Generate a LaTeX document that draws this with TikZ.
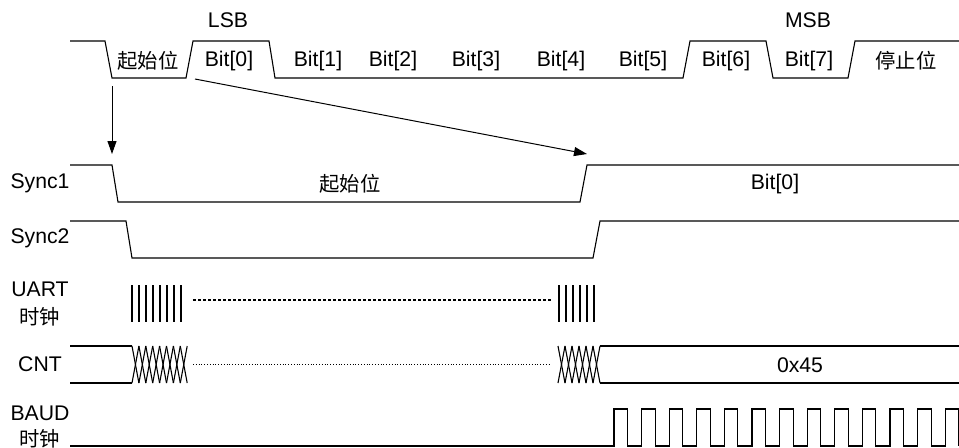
\documentclass[tikz,border=0pt]{standalone}
\usepackage{fontspec}
\setmainfont{Liberation Sans}
\newfontfamily\cjk[Scale=0.96]{Noto Sans CJK SC}
\usetikzlibrary{arrows.meta}

\begin{document}
\begin{tikzpicture}[x=0.5pt,
					y=-0.5pt,
					wave/.style={line width=0.55pt},
					clk/.style={line width=0.9pt},
					txt/.style={font=\fontsize{10.6}{12}\selectfont,inner sep=0pt},
					ptr/.style={-{Triangle[length=6.5pt,width=4.5pt]},line width=0.5pt}]

  \useasboundingbox (0,0) rectangle (959,447);

  % serial frame
  \draw[wave] (70,41) -- (105,41) -- (112,78) -- (186,78) -- (193,41) -- (269,41)
    -- (275,78) -- (683,78) -- (690,41) -- (766,41) -- (773,78) -- (848,78)
    -- (855,41) -- (959,41);

  \node[txt] (lsb) at (228,20) {LSB};
  \node[txt] (msb) at (808,20) {MSB};
  \node[txt] (start) at (148,61) {\cjk 起始位};
  \node[txt] (bit0) at (229,61) {Bit[0]};
  \node[txt] (bit1) at (318,61) {Bit[1]};
  \node[txt] (bit2) at (393,61) {Bit[2]};
  \node[txt] (bit3) at (476,61) {Bit[3]};
  \node[txt] (bit4) at (561,61) {Bit[4]};
  \node[txt] (bit5) at (643,61) {Bit[5]};
  \node[txt] (bit6) at (726,61) {Bit[6]};
  \node[txt] (bit7) at (809,61) {Bit[7]};
  \node[txt] (stop) at (906,61) {\cjk 停止位};

  % signal names
  \node[txt] (sync1) at (40,183) {Sync1};
  \node[txt] (sync2) at (40,238) {Sync2};
  \node[txt] (uart) at (40,289) {UART};
  \node[txt] (uartclk) at (40,317) {\cjk 时钟};
  \node[txt] (cnt) at (40,364) {CNT};
  \node[txt] (baud) at (40,413) {BAUD};
  \node[txt] (baudclk) at (40,439) {\cjk 时钟};

  % sync pointers
  \coordinate (fall) at (112,86);
  \coordinate (fallsync) at (112,154);
  \coordinate (lsbend) at (195,79);
  \coordinate (risesync) at (587,154);
  \draw[ptr] (fall) -- (fallsync);
  \draw[ptr] (lsbend) -- (risesync);

  % Sync1 / Sync2
  \draw[wave] (70,165) -- (112,165) -- (118,202) -- (580,202) -- (587,165) -- (959,165);
  \node[txt] (s1start) at (350,184) {\cjk 起始位};
  \node[txt] (s1bit0) at (775,184) {Bit[0]};
  \draw[wave] (70,221) -- (126,221) -- (132,258) -- (593,258) -- (600,221) -- (959,221);

  % UART clock
  \foreach \i in {0,...,7}
    \draw[clk] (132+7*\i,285) -- (132+7*\i,322);
  \draw[wave,dash pattern=on 1.5pt off 1pt] (193,300) -- (552,300);
  \foreach \i in {0,...,5}
    \draw[clk] (559+7*\i,285) -- (559+7*\i,322);

  % CNT
  \draw[wave] (70,346) -- (132,346);
  \draw[wave] (70,383) -- (132,383);
  \foreach \i in {0,...,7} {
    \draw[wave] (132+6.9*\i,346) -- (138.9+6.9*\i,383);
    \draw[wave] (132+6.9*\i,383) -- (138.9+6.9*\i,346);
  }
  \draw[line width=0.4pt,densely dotted] (193,364) -- (550,364);
  \foreach \i in {0,...,5} {
    \draw[wave] (558+7*\i,346) -- (565+7*\i,383);
    \draw[wave] (558+7*\i,383) -- (565+7*\i,346);
  }
  \draw[wave] (600,346) -- (959,346);
  \draw[wave] (600,383) -- (959,383);
  \node[txt] (value) at (800,365) {0x45};

  % BAUD clock
  \draw[wave] (70,446)
    foreach \i in {0,...,12} {
      -- (614+27.6*\i,446) -- (614+27.6*\i,409) -- (627.5+27.6*\i,409) -- (627.5+27.6*\i,446)
    };
\end{tikzpicture}
\end{document}
